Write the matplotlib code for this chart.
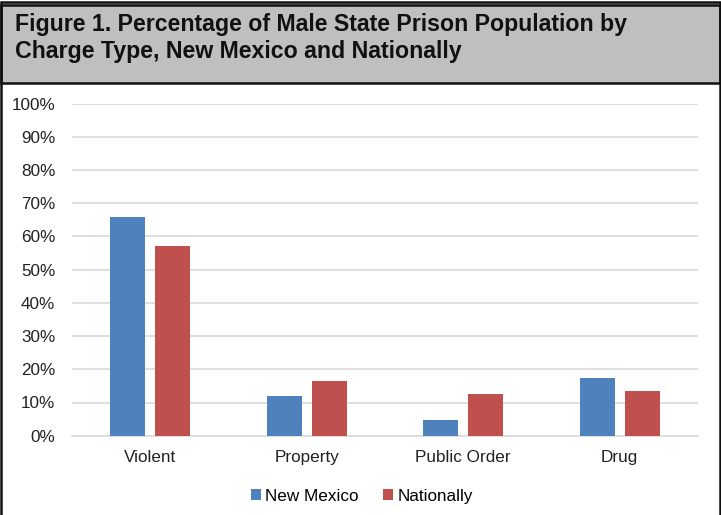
import matplotlib.pyplot as plt
import numpy as np
from matplotlib.patches import Rectangle
from matplotlib.ticker import FuncFormatter

plt.rcParams["font.family"] = ["Liberation Sans", "DejaVu Sans"]

categories = ["Violent", "Property", "Public Order", "Drug"]
new_mexico = [66, 12, 4.6, 17.3]
nationally = [57, 16.4, 12.6, 13.5]

title = "Figure 1. Percentage of Male State Prison Population by\nCharge Type, New Mexico and Nationally"

blue = "#4F81BD"
red = "#C0504D"

fig = plt.figure(figsize=(7.21, 5.15), dpi=100)

# grey heading band and outer frame
W, H = 721, 515
band_bottom = 83
fig.patches.append(Rectangle((0.002, 1 - band_bottom / H), 0.996, band_bottom / H - 0.003,
                             transform=fig.transFigure, facecolor="#BFBFBF",
                             edgecolor="#111111", linewidth=1.8, zorder=0))
fig.patches.append(Rectangle((0.002, -0.01), 0.996, 1.0,
                             transform=fig.transFigure, facecolor="none",
                             edgecolor="#111111", linewidth=1.8, zorder=0))
fig.text(15 / W, 1 - 38 / H, title, fontsize=16.7, fontweight="bold",
         va="center", ha="left", linespacing=1.2, color="#111111")

ax = fig.add_axes([72 / W, 79.3 / H, 626 / W, 332 / H])

x = np.arange(len(categories))
width = 0.224
offset = 0.144
ax.bar(x - offset, new_mexico, width, color=blue, label="New Mexico", zorder=3)
ax.bar(x + offset, nationally, width, color=red, label="Nationally", zorder=3)

ax.set_xlim(-0.5, 3.5)
ax.set_ylim(0, 100)
ax.set_yticks(np.arange(0, 101, 10))
ax.yaxis.set_major_formatter(FuncFormatter(lambda v, p: f"{v:.0f}%"))
ax.set_xticks(x)
ax.set_xticklabels(categories)
ax.grid(axis="y", color="#D9D9D9", linewidth=1.2, zorder=0)
for s in ["top", "right", "left"]:
    ax.spines[s].set_visible(False)
ax.spines["bottom"].set_color("#D9D9D9")
ax.spines["bottom"].set_linewidth(1.2)
ax.tick_params(axis="both", length=0, labelsize=12.3, colors="#222222")
ax.tick_params(axis="y", pad=12)
ax.tick_params(axis="x", pad=10)

ax.legend(loc="upper center", bbox_to_anchor=(0.463, -0.113), ncol=2, frameon=False,
          fontsize=12.3, handlelength=0.6, handleheight=0.6, handletextpad=0.25,
          columnspacing=1.4)

fig.savefig("out.png", dpi=100)
